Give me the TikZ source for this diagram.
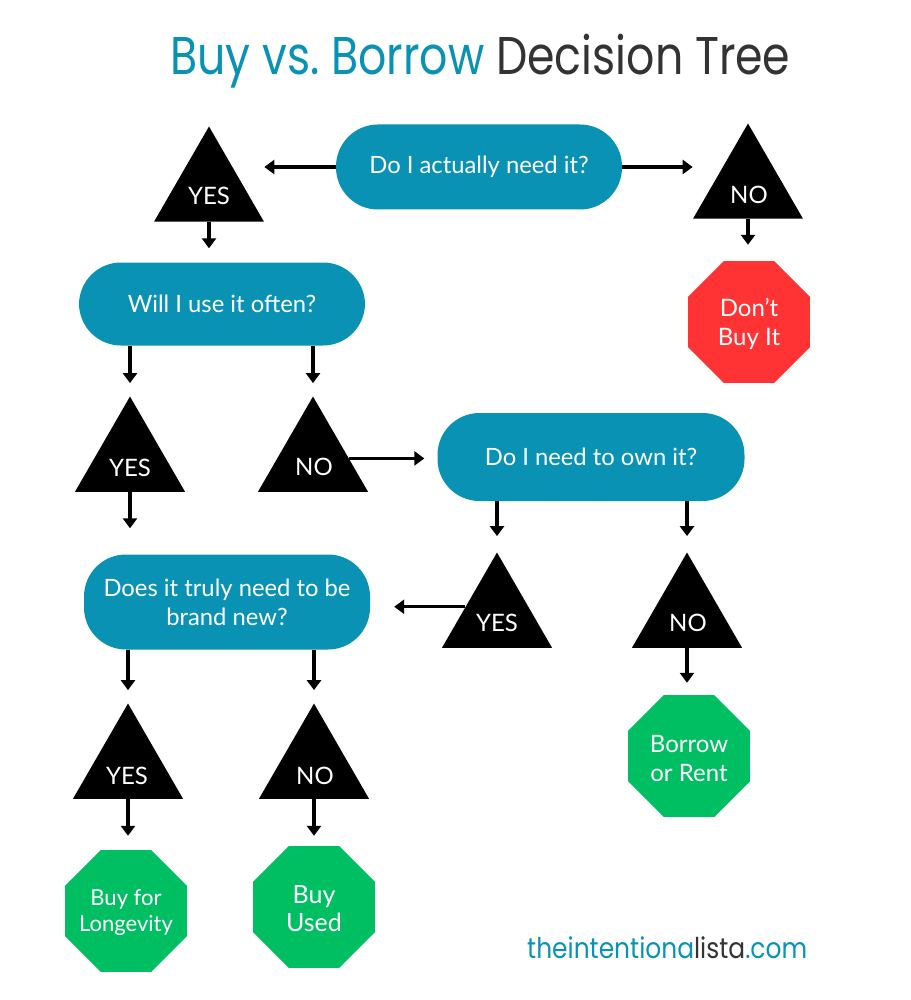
\documentclass[tikz,border=0pt]{standalone}
\usepackage{fontspec}
\setmainfont{Lato}
\newfontfamily\titlefont{Poppins}
\usetikzlibrary{shapes.geometric,arrows.meta,calc}
\definecolor{qteal}{HTML}{0A92B4}
\definecolor{tdark}{HTML}{333333}
\definecolor{stopred}{HTML}{FF3333}
\definecolor{gogreen}{HTML}{00BF63}
\begin{document}
\begin{tikzpicture}[x=1pt,y=-1pt,
 q/.style={rectangle,rounded corners=42pt,fill=qteal,text=white,minimum width=286pt,minimum height=85pt,align=center,inner sep=0pt,font=\fontsize{23.8}{29}\selectfont},
 tri/.style={regular polygon,regular polygon sides=3,fill=black,minimum size=127pt,inner sep=0pt},
 tlab/.style={text=white,inner sep=0pt,font=\fontsize{24}{26}\selectfont},
 oct/.style={regular polygon,regular polygon sides=8,minimum size=132pt,inner sep=0pt},
 olab/.style={text=white,align=center,inner sep=0pt,font=\fontsize{24}{29}\selectfont},
 arr/.style={line width=3.5pt,-{Triangle[length=10pt,width=14pt]}}]
\useasboundingbox[fill=white] (0,0) rectangle (910,1000);

% title
\node[anchor=base west,inner sep=0pt] (title) at (170,75) {\scalebox{1}[1.2]{\resizebox{620pt}{!}{\titlefont\color{qteal}Buy vs.\ Borrow \color{tdark}Decision Tree}}};

% questions
\node[q] (q1) at (479,167) {Do I actually need it?};
\node[q,minimum height=83pt] (q2) at (222,304) {Will I use it often?};
\node[q,minimum width=307pt,minimum height=88pt] (q3) at (591,457) {Do I need to own it?};
\node[q,minimum height=95pt] (q4) at (227,602) {Does it truly need to be\\brand new?};

% triangles
\node[tri] (t1) at (209,190) {};
\node[tri] (t2) at (748,187) {};
\node[tri] (t3) at (130,460) {};
\node[tri] (t4) at (313,460) {};
\node[tri] (t5) at (497,616) {};
\node[tri] (t6) at (687,616) {};
\node[tri] (t7) at (128,767) {};
\node[tri] (t8) at (314,767) {};
\node[tlab] (t1l) at ($(t1)+(0,6)$) {YES};
\node[tlab] (t2l) at ($(t2)+(1,8)$) {NO};
\node[tlab] (t3l) at ($(t3)+(0,8)$) {YES};
\node[tlab] (t4l) at ($(t4)+(1,7)$) {NO};
\node[tlab] (t5l) at ($(t5)+(0,7)$) {YES};
\node[tlab] (t6l) at ($(t6)+(1,7)$) {NO};
\node[tlab] (t7l) at ($(t7)+(-1,9)$) {YES};
\node[tlab] (t8l) at ($(t8)+(1,9)$) {NO};

% outcomes
\node[oct,fill=stopred] (o1) at (749,322) {};
\node[olab] (o1l) at ($(o1)+(0,2)$) {Don’t\\Buy It};
\node[oct,fill=gogreen] (o2) at (689,756) {};
\node[olab] (o2l) at ($(o2)+(0,2)$) {Borrow\\or Rent};
\node[oct,fill=gogreen] (o3) at (126,911) {};
\node[olab,font=\fontsize{22}{26}\selectfont] (o3l) at ($(o3)+(0,1)$) {Buy for\\Longevity};
\node[oct,fill=gogreen] (o4) at (314,907) {};
\node[olab,font=\fontsize{25}{28}\selectfont] (o4l) at ($(o4)+(0,2)$) {Buy\\Used};

% connectors
\draw[arr] (q1.west) -- (q1.west -| t1.corner 3);
\draw[arr] (q1.east) -- (q1.east -| t2.corner 2);
\draw[arr,shorten >=14pt] (t1.south) -- (t1.south |- q2.north);
\draw[arr,shorten >=16pt] (t2.south) -- (t2.south |- o1.north);
\draw[arr,shorten >=13pt] (q2.south -| t3.corner 1) -- (t3.corner 1);
\draw[arr,shorten >=13pt] (q2.south -| t4.corner 1) -- (t4.corner 1);
\coordinate (n4) at ($(t4.corner 1)!0.65!(t4.corner 3)$);
\draw[arr,shorten >=13pt] (n4) -- (n4 -| q3.west);
\draw[arr,shorten >=26pt] (t3.south) -- (t3.south |- q4.north);
\draw[arr,shorten >=16pt] (q3.south -| t5.corner 1) -- (t5.corner 1);
\draw[arr,shorten >=16pt] (q3.south -| t6.corner 1) -- (t6.corner 1);
\coordinate (y5) at ($(t5.corner 1)!0.57!(t5.corner 2)$);
\draw[arr,shorten >=24pt] (y5) -- (y5 -| q4.east);
\draw[arr,shorten >=12pt] (t6.south) -- (t6.south |- o2.north);
\draw[arr,shorten >=13pt] (q4.south -| t7.corner 1) -- (t7.corner 1);
\draw[arr,shorten >=13pt] (q4.south -| t8.corner 1) -- (t8.corner 1);
\draw[arr,shorten >=14pt] (t7.south) -- (t7.south |- o3.north);
\draw[arr,shorten >=10pt] (t8.south) -- (t8.south |- o4.north);

% footer
\node[anchor=base west,inner sep=0pt] (site) at (527,958) {\scalebox{1}[1.15]{\resizebox{280pt}{!}{\titlefont\color{qteal}theintentiona\color{tdark}lista\color{qteal}.com}}};
\end{tikzpicture}
\end{document}
